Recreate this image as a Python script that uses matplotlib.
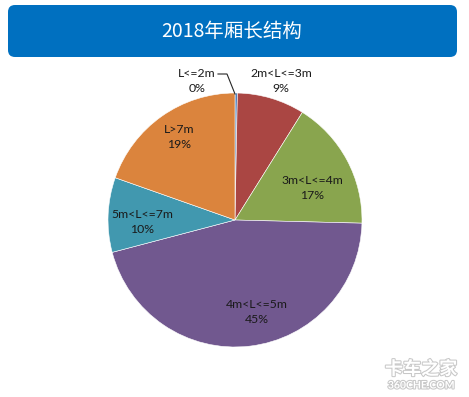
import matplotlib
matplotlib.use("Agg")
import matplotlib.pyplot as plt
from matplotlib.patches import FancyBboxPatch
import matplotlib.patheffects as pe

plt.rcParams['font.family'] = ['Lato', 'Noto Sans CJK SC', 'DejaVu Sans']

# data (clockwise from 12 o'clock)
categories = ['L<=2m', '2m<L<=3m', '3m<L<=4m', '4m<L<=5m', '5m<L<=7m', 'L>7m']
shares = [0.3, 8.6, 16.5, 45.5, 9.5, 19.6]
pct_labels = ['0%', '9%', '17%', '45%', '10%', '19%']
colors = ['#4F81BD', '#AA4643', '#89A54E', '#71588F', '#4198AF', '#DB843D']
title = '2018年厢长结构'

# layout in pixels (origin bottom-left)
W, H = 469, 397
cx, cy, r = 235, H - 220, 127
label_xy = [(197, H - 81), (281, H - 81), (312, H - 188),
            (257, H - 312), (142, H - 222), (179, H - 137)]

fig = plt.figure(figsize=(W / 100, H / 100), dpi=100)
ax = fig.add_axes([0, 0, 1, 1])
ax.set_xlim(0, W)
ax.set_ylim(0, H)
ax.set_aspect('equal')
ax.axis('off')

# title bar
box = FancyBboxPatch((8, H - 57), 449, 52,
                     boxstyle='round,pad=0,rounding_size=7',
                     fc='#0070C0', ec='none')
ax.add_patch(box)
ax.text(232, H - 31, title, color='white', fontsize=14,
        ha='center', va='center', family=['Noto Sans CJK SC', 'DejaVu Sans'])

ax.pie(shares, colors=colors, startangle=90, counterclock=False,
       center=(cx, cy), radius=r,
       wedgeprops=dict(edgecolor='white', linewidth=0.4))
ax.set_xlim(0, W)
ax.set_ylim(0, H)

for (x, y), name, pct in zip(label_xy, categories, pct_labels):
    ax.text(x, y, name + '\n' + pct, ha='center', va='center',
            fontsize=8.8, color='#1a1a1a', linespacing=1.4)

# leader line for the tiny slice
ax.plot([218, 227, cx], [H - 74, H - 74, H - 94], color='#262626', lw=0.8)

# faint watermark
outline = [pe.withStroke(linewidth=1.5, foreground='#c8c8c8')]
ax.text(421, H - 369, '卡车之家', fontsize=13, color='white', ha='center',
        va='center', family=['Noto Sans CJK SC', 'DejaVu Sans'],
        fontweight='bold', path_effects=outline)
ax.text(421, H - 386, '360CHE.COM', fontsize=7.5, color='white', ha='center',
        va='center', fontweight='bold', path_effects=outline)

fig.savefig('out.png', dpi=100)
